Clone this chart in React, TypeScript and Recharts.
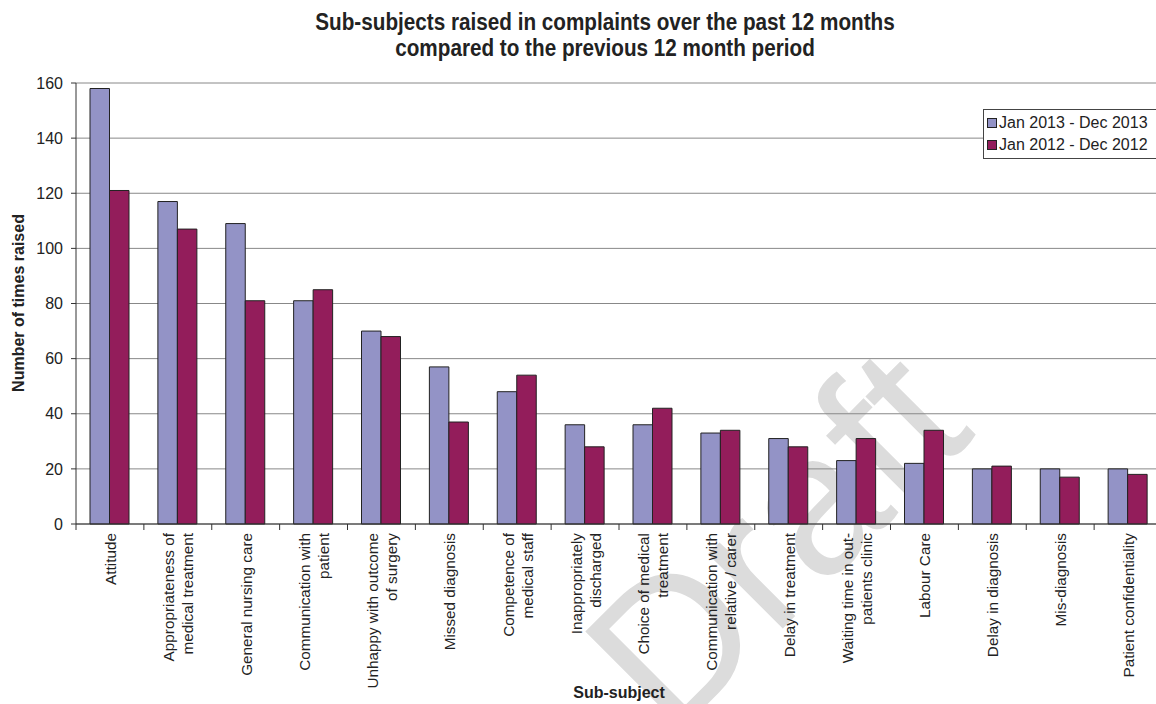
import { Bar, BarChart, CartesianGrid, XAxis, YAxis } from "recharts";

const categories = [
	"Attitude",
	"Appropriateness of\nmedical treatment",
	"General nursing care",
	"Communication with\npatient",
	"Unhappy with outcome\nof surgery",
	"Missed diagnosis",
	"Competence of\nmedical staff",
	"Inappropriately\ndischarged",
	"Choice of medical\ntreatment",
	"Communication with\nrelative / carer",
	"Delay in treatment",
	"Waiting time in out-\npatients clinic",
	"Labour Care",
	"Delay in diagnosis",
	"Mis-diagnosis",
	"Patient confidentiality",
];
const year2013 = [158, 117, 109, 81, 70, 57, 48, 36, 36, 33, 31, 23, 22, 20, 20, 20];
const year2012 = [121, 107, 81, 85, 68, 37, 54, 28, 42, 34, 28, 31, 34, 21, 17, 18];
const yTicks = [0, 20, 40, 60, 80, 100, 120, 140, 160];
const seriesNames = ["Jan 2013 - Dec 2013", "Jan 2012 - Dec 2012"];

const data = categories.map((name, i) => ({
	name,
	a: year2013[i],
	b: year2012[i],
}));

const FONT = "Arial, 'Liberation Sans', sans-serif";
const BLUE = "#9393c6";
const RED = "#931d5b";
const CHART_W = 1170;
const MARGIN = { top: 83, right: 8, left: 1, bottom: 0 };
const Y_W = 75;
const BAND = (CHART_W - MARGIN.left - MARGIN.right - Y_W) / categories.length;

const XTick = ({ x, y, payload, index }: any) => {
	const lines = String(payload.value).split("\n");
	return (
		<g>
			<line x1={x - BAND / 2} x2={x - BAND / 2} y1={y} y2={y + 6} stroke="#333" />
			{index === categories.length - 1 && (
				<line x1={x + BAND / 2} x2={x + BAND / 2} y1={y} y2={y + 6} stroke="#333" />
			)}
			{lines.map((ln, i) => {
				const tx = x + (i - (lines.length - 1) / 2) * 19 + 6;
				const ty = y + 9;
				return (
					<text
						key={i}
						x={tx}
						y={ty}
						transform={`rotate(-90, ${tx}, ${ty})`}
						textAnchor="end"
						fontSize={15.3}
						fontFamily={FONT}
						fill="#222"
					>
						{ln}
					</text>
				);
			})}
		</g>
	);
};

const LegendBox = () => (
	<div
		style={{
			position: "absolute",
			left: 983,
			top: 109,
			border: "1px solid #444",
			background: "#fff",
			padding: "2px 6px 2px 3px",
			fontSize: 16,
			color: "#222",
			width: 190,
		}}
	>
		{seriesNames.map((n, i) => (
			<div key={n} style={{ display: "flex", alignItems: "center", height: 22, whiteSpace: "nowrap" }}>
				<span
					style={{
						display: "inline-block",
						width: 8,
						height: 8,
						border: "1px solid #222",
						background: i === 0 ? BLUE : RED,
						marginRight: 2,
					}}
				/>
				{n}
			</div>
		))}
	</div>
);

export default function App() {
	return (
		<div
			style={{
				position: "fixed",
				left: 0,
				top: 0,
				width: 1156,
				height: 704,
				overflow: "hidden",
				background: "#fff",
				fontFamily: FONT,
			}}
		>
			<svg width={1156} height={704} style={{ position: "absolute", left: 0, top: 0 }}>
				<text
					x={775}
					y={538}
					transform="rotate(-45, 775, 538)"
					textAnchor="middle"
					dominantBaseline="central"
					fontSize={200}
					fontFamily={FONT}
					fill="#dcdcdc"
				>
					Draft
				</text>
			</svg>
			{/* title looks vertically stretched in the source, hence the scaleY */}
			<div
				style={{
					position: "absolute",
					left: 0,
					top: 10,
					width: 1210,
					textAlign: "center",
					fontWeight: "bold",
					fontSize: 20.7,
					lineHeight: "22.6px",
					color: "#222",
					transform: "scaleY(1.12)",
					transformOrigin: "0 0",
				}}
			>
				Sub-subjects raised in complaints over the past 12 months
				<br />
				compared to the previous 12 month period
			</div>
			<div style={{ position: "absolute", left: 0, top: 0 }}>
				<BarChart
					width={CHART_W}
					height={704}
					data={data}
					margin={MARGIN}
					barSize={19.5}
					barGap={0}
				>
					<CartesianGrid vertical={false} stroke="#888" />
					<XAxis
						dataKey="name"
						interval={0}
						height={180}
						stroke="#333"
						tickLine={false}
						tickSize={0}
						tickMargin={0}
						tick={<XTick />}
					/>
					<YAxis
						width={Y_W}
						domain={[0, 160]}
						ticks={yTicks}
						interval={0}
						stroke="#333"
						tickSize={5}
						tickMargin={8}
						tick={{ fontSize: 16, fill: "#222", fontFamily: FONT }}
					/>
					<Bar dataKey="a" name={seriesNames[0]} fill={BLUE} stroke="#222" strokeWidth={1} isAnimationActive={false} />
					<Bar dataKey="b" name={seriesNames[1]} fill={RED} stroke="#222" strokeWidth={1} isAnimationActive={false} />
				</BarChart>
			</div>
			<svg width={1156} height={704} style={{ position: "absolute", left: 0, top: 0, pointerEvents: "none" }}>
				<text
					x={24}
					y={303}
					transform="rotate(-90, 24, 303)"
					textAnchor="middle"
					fontWeight="bold"
					fontSize={16}
					fontFamily={FONT}
					fill="#222"
				>
					Number of times raised
				</text>
				<text
					x={619}
					y={698}
					textAnchor="middle"
					fontWeight="bold"
					fontSize={16}
					fontFamily={FONT}
					fill="#222"
				>
					Sub-subject
				</text>
			</svg>
			<LegendBox />
		</div>
	);
}
